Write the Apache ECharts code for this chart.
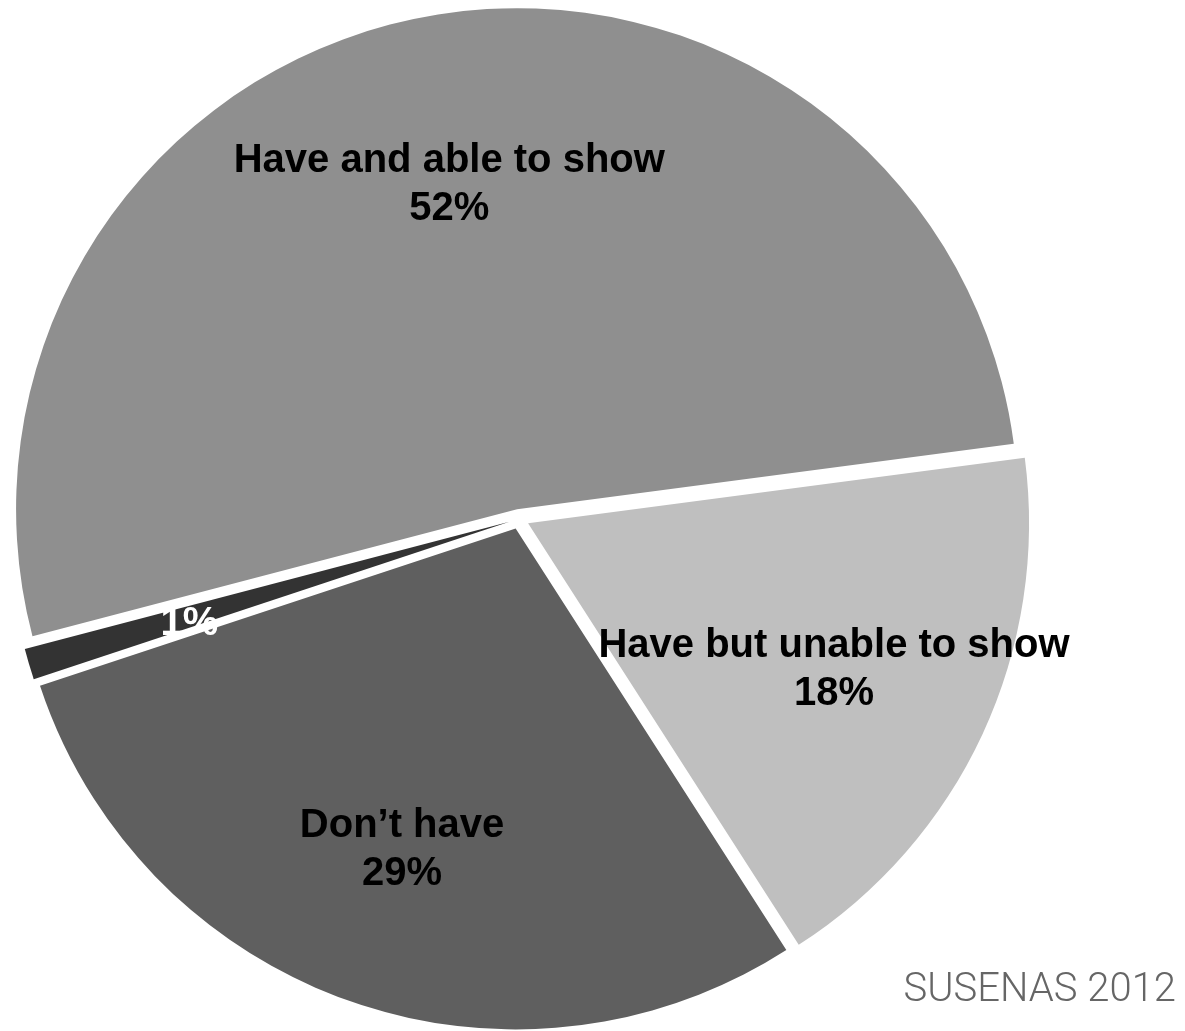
<!DOCTYPE html>
<html>
<head>
<meta charset="utf-8">
<script src="https://cdn.jsdelivr.net/npm/echarts@6/dist/echarts.min.js"></script>
<style>
  html, body { margin: 0; padding: 0; background: #ffffff; }
  #chart { width: 1185px; height: 1031px; }
</style>
</head>
<body>
<div id="chart"></div>
<script>
// Ownership of a birth certificate, share of children (clockwise from the right)
const categories = ['Have but unable to show', 'Don\u2019t have', 'Don\u2019t know', 'Have and able to show'];
const shares = [18, 29, 1, 52];
const showName = [true, true, false, true];
const sliceColors = ['#bfbfbf', '#5f5f5f', '#333333', '#8f8f8f'];
const labelColors = ['#000000', '#000000', '#ffffff', '#000000'];
// nudges of each label away from its default in-slice anchor
const labelNudge = [[76, 40], [-29, 83], [-77, 30], [-19, -75]];
const sourceNote = 'SUSENAS 2012';

const chart = echarts.init(document.getElementById('chart'), null, { renderer: 'canvas' });

const data = categories.map((name, i) => ({
  name: name,
  value: shares[i],
  selected: true,
  itemStyle: { color: sliceColors[i] },
  label: {
    color: labelColors[i],
    formatter: showName[i] ? '{b}\n{c}%' : '{c}%'
  }
}));

chart.setOption({
  animation: false,
  backgroundColor: '#ffffff',
  series: [{
    type: 'pie',
    center: [519, 519],
    radius: [0, 501],
    startAngle: 7.5,
    clockwise: true,
    selectedMode: 'multiple',
    selectedOffset: 10,
    avoidLabelOverlap: false,
    emphasis: { disabled: true },
    itemStyle: { borderWidth: 0 },
    label: {
      show: true,
      position: 'inside',
      fontFamily: '"Liberation Sans", Arial, sans-serif',
      fontWeight: 'bold',
      fontSize: 40,
      lineHeight: 48,
      align: 'center'
    },
    labelLine: { show: false },
    labelLayout: function (params) {
      const n = labelNudge[params.dataIndex];
      return { dx: n[0], dy: n[1] };
    },
    data: data
  }],
  graphic: [{
    type: 'text',
    x: 1176,
    y: 971,
    style: {
      text: sourceNote,
      fontFamily: 'Roboto, sans-serif',
      fontWeight: 300,
      fontSize: 40,
      fill: '#666666',
      textAlign: 'right',
      textVerticalAlign: 'alphabetic'
    }
  }]
});
</script>
</body>
</html>
